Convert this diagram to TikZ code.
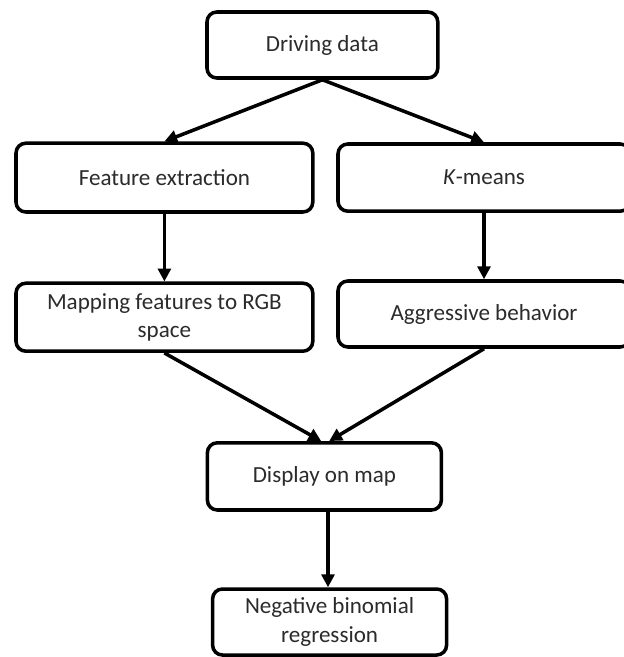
\documentclass[tikz,border=0pt]{standalone}
\usepackage{fontspec}
\setmainfont{Carlito}
\usetikzlibrary{arrows.meta, positioning, calc}
\definecolor{cline}{HTML}{000000}
\definecolor{ctext}{HTML}{2B2B2B}
\tikzset{
  every picture/.style={font=\fontsize{16.4}{20}\selectfont, line width=2.5pt},
  box/.style={draw=cline, fill=white, rounded corners=7pt, align=center, text=ctext, minimum width=5.85cm, minimum height=1.68cm},
  arrow/.style={-{Triangle[length=3.2mm, width=3.2mm]}, draw=cline, line width=2.5pt},
}
\begin{document}
\begin{tikzpicture}
  \tikzset{
    wide/.style={box, minimum width=7.42cm, minimum height=1.72cm},
  }
  \useasboundingbox (0,0) rectangle (15.6,-16.425);
  \node[box, minimum width=5.77cm, minimum height=1.65cm] (drive) at (8.06,-1.125) {Driving data};
  \node[wide] (feat) at (4.11,-4.44) {Feature extraction};
  \node[wide, minimum width=7.3cm, minimum height=1.68cm] (kmeans) at (12.1,-4.44) {\textit{K}-means};
  \node[wide, minimum height=1.7cm] (map) at (4.11,-7.93) {Mapping features to RGB\\space};
  \node[wide, minimum width=7.3cm, minimum height=1.65cm] (aggr) at (12.1,-7.85) {Aggressive behavior};
  \node[box] (disp) at (8.11,-11.91) {Display on map};
  \node[box, minimum height=1.65cm] (negbin) at (8.24,-15.55) {Negative binomial\\regression};
  \draw[arrow] (drive.south) -- (feat.north);
  \draw[arrow] (drive.south) -- (kmeans.north);
  \draw[arrow] (feat) -- (map);
  \draw[arrow] (kmeans.south) -- (kmeans.south |- aggr.north);
  \draw[arrow] (map.south) -- ($(disp.north)+(-0.08,0)$);
  \draw[arrow] (aggr.south) -- ($(disp.north)+(0.12,0)$);
  \draw[arrow] ($(disp.south)+(0.09,0)$) -- ($(negbin.north)+(-0.04,0)$);
\end{tikzpicture}
\end{document}
